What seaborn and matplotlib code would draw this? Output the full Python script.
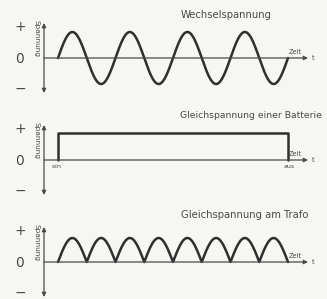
import numpy as np
import pandas as pd
import seaborn as sns
import matplotlib.pyplot as plt

# schematic values (time in cycles of the AC wave)
titles = ["Wechselspannung", "Gleichspannung einer Batterie", "Gleichspannung am Trafo"]
ac_cycles = 4
ac_amplitude = 1.0
dc_on, dc_off = 0.0, 4.0
dc_level = 1.0
dc_labels = ["ein", "aus"]
rect_humps = 8
rect_amplitude = 1.0
t_end = 4.0
sign_labels = ["+", "0", "\u2212"]
y_label = "Spannung"
x_label = "Zeit"

t = np.linspace(0, t_end, 801)
df_ac = pd.DataFrame({"t": t, "u": ac_amplitude * np.sin(2 * np.pi * ac_cycles * t / t_end)})
df_dc = pd.DataFrame({"t": [dc_on, dc_on, dc_off, dc_off], "u": [0, dc_level, dc_level, 0]})
df_rect = pd.DataFrame({"t": t, "u": rect_amplitude * np.abs(np.sin(np.pi * rect_humps * t / t_end))})

sns.set_style("white")
plt.rcParams["font.family"] = ["DejaVu Sans"]

W, H = 327, 299
fig = plt.figure(figsize=(W / 100, H / 100), dpi=100)
fig.patch.set_facecolor("#f6f6f3")

ink = "#2f2f2f"
gray = "#4a4a4a"
x0, xscale = 58, (288 - 58) / t_end  # pixel of t=0, pixels per unit

# (top pixel, height, zero pixel, pixels per unit amplitude, title x, title size)
panels = [(0, 100, 58, 26, 181, 7.2), (100, 100, 160, 27, 180, 6.7),
          (200, 99, 262, 24, 181, 7.2)]
frames = [df_ac, df_dc, df_rect]

for (top, h, zero, yscale, tx, tsize), df, title in zip(panels, frames, titles):
    ax = fig.add_axes([0, 1 - (top + h) / H, 1, h / H])
    ax.set_facecolor("none")
    ax.set_xlim(-x0 / xscale, (W - x0) / xscale)
    ax.set_ylim(-(top + h - zero) / yscale, (zero - top) / yscale)
    ax.axis("off")

    def p(px, py, zero=zero, yscale=yscale):
        return ((px - x0) / xscale, (zero - py) / yscale)

    # axes arrows
    ax.annotate("", xy=p(44, zero - 35), xytext=p(44, zero + 35),
                arrowprops=dict(arrowstyle="<|-|>", color=gray, lw=0.9,
                                mutation_scale=6, shrinkA=0, shrinkB=0))
    ax.annotate("", xy=p(308, zero), xytext=p(44, zero),
                arrowprops=dict(arrowstyle="-|>", color=gray, lw=0.9,
                                mutation_scale=6, shrinkA=0, shrinkB=0))

    sns.lineplot(data=df, x="t", y="u", ax=ax, color=ink, lw=1.8, sort=False,
                 estimator=None, legend=False)
    ax.set_xlabel("")
    ax.set_ylabel("")

    for lab, dy in zip(sign_labels, [-31, 1, 31]):
        ax.text(*p(20, zero + dy), lab, ha="center", va="center",
                fontsize=10, color=gray)
    ax.text(*p(37, zero - 19), y_label, rotation=270, ha="center", va="center",
            fontsize=5.3, color=gray)
    ax.text(*p(295, zero - 6), x_label, ha="center", va="center",
            fontsize=4.8, color=gray)
    ax.text(*p(313, zero), "t", ha="center", va="center", fontsize=4.8, color=gray)
    ax.text(*p(tx, top + 15), title, ha="left", va="center", fontsize=tsize,
            color=gray, clip_on=False)

    if df is df_dc:
        ax.text(*p(57, zero + 7), dc_labels[0], ha="center", va="center",
                fontsize=4.6, color=gray)
        ax.text(*p(289, zero + 7), dc_labels[1], ha="center", va="center",
                fontsize=4.6, color=gray)

fig.savefig("out.png", dpi=100, facecolor=fig.get_facecolor())
